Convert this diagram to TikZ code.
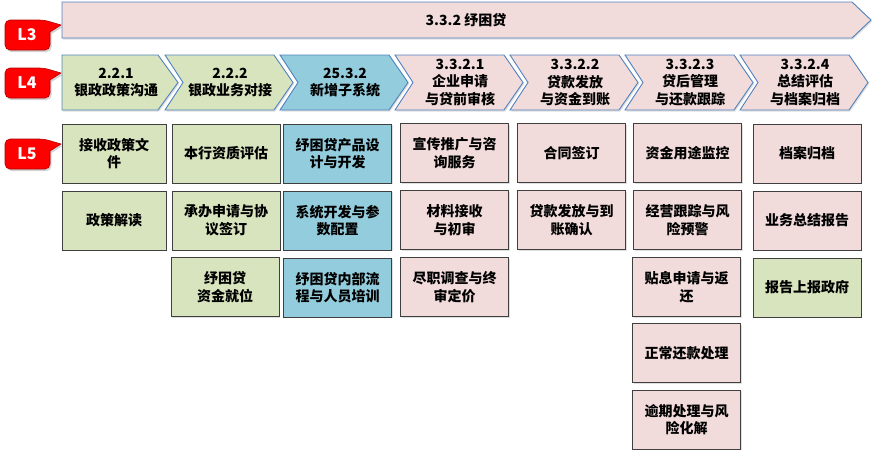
\documentclass[tikz,border=0pt]{standalone}
\usepackage{fontspec}
\setmainfont{Noto Sans CJK SC}
\usetikzlibrary{shadows}
\definecolor{oliveL}{HTML}{D7E4BD}
\definecolor{aquaL}{HTML}{93CDDD}
\definecolor{roseL}{HTML}{F2DCDB}
\definecolor{edgeB}{HTML}{4F81BD}
\definecolor{edgeD}{HTML}{3F3F3F}
\definecolor{tagR}{HTML}{FF0000}

\begin{document}
\begin{tikzpicture}[x=1pt,y=-1pt,
  chev/.style={draw=edgeB, line width=0.9pt, line join=miter,
    drop shadow={shadow xshift=1.2pt,shadow yshift=-1.5pt,opacity=0.25}},
  chevtext/.style={align=center, font=\fontsize{14}{17.5}\selectfont\bfseries},
  tag/.style={fill=tagR, draw=red!70!black, line width=0.6pt,
    drop shadow={shadow xshift=1.5pt,shadow yshift=-2pt,opacity=0.35}},
  tagtext/.style={text=white, font=\fontsize{16}{18}\selectfont\bfseries},
  l5box/.style={draw=edgeD, line width=0.9pt, minimum width=108pt, minimum height=59pt,
    align=center, inner sep=2pt, font=\fontsize{14}{17.5}\selectfont\bfseries,
    drop shadow={shadow xshift=1pt,shadow yshift=-1.2pt,opacity=0.25}}]

  \useasboundingbox (0,0) rectangle (877,450);

  % level tags
  \foreach \t/\lab in {20/L3, 68/L4, 139/L5}{
    \filldraw[tag, rounded corners=5pt] (5,{\t+15}) |- (44,\t) [sharp corners] -- (61,{\t+5})
      -- (50,{\t+12}) [rounded corners=5pt] |- (5,{\t+30}) -- cycle;
    \node[tagtext] (tag\lab) at (27,{\t+15}) {\lab};
  }

  % L3
  \filldraw[chev, fill=roseL] (62,2) -- (852,2) -- (871,20) -- (852,38) -- (62,38) -- cycle;
  \node[chevtext] (l3) at (466,20) {3.3.2 纾困贷};

  % L4
  \filldraw[chev, fill=oliveL] (62,55) -- (158,55) -- (178,82.5) -- (158,110) -- (62,110) -- cycle;
  \node[chevtext] (c1) at (116,82.5) {2.2.1\\银政政策沟通};
  \foreach \l/\c/\txt [count=\i from 2] in {
      165/oliveL/{2.2.2\\银政业务对接},
      280/aquaL/{25.3.2\\新增子系统},
      395/roseL/{3.3.2.1\\企业申请\\与贷前审核},
      510/roseL/{3.3.2.2\\贷款发放\\与资金到账},
      625/roseL/{3.3.2.3\\贷后管理\\与还款跟踪},
      740/roseL/{3.3.2.4\\总结评估\\与档案归档}}{
    \filldraw[chev, fill=\c] (\l,55) -- ({\l+109},55) -- ({\l+128},82.5) -- ({\l+109},110)
      -- (\l,110) -- ({\l+18},82.5) -- cycle;
    \node[chevtext] (c\i) at ({\l+65},82.5) {\txt};
  }

  % L5
  \node[l5box, fill=oliveL, minimum width=104pt] (b11) at (114,153.5) {接收政策文\\件};
  \node[l5box, fill=oliveL, minimum width=104pt] (b12) at (114,220.5) {政策解读};

  \node[l5box, fill=oliveL] (b21) at (226,153.5) {本行资质评估};
  \node[l5box, fill=oliveL] (b22) at (226,220.5) {承办申请与协\\议签订};
  \node[l5box, fill=oliveL] (b23) at (225,287) {纾困贷\\资金就位};

  \node[l5box, fill=aquaL] (b31) at (337.5,153.5) {纾困贷产品设\\计与开发};
  \node[l5box, fill=aquaL] (b32) at (337.5,220.5) {系统开发与参\\数配置};
  \node[l5box, fill=aquaL] (b33) at (337.5,287.5) {纾困贷内部流\\程与人员培训};

  \node[l5box, fill=roseL] (b41) at (454.5,153) {宣传推广与咨\\询服务};
  \node[l5box, fill=roseL] (b42) at (454.5,220) {材料接收\\与初审};
  \node[l5box, fill=roseL] (b43) at (454.5,287) {尽职调查与终\\审定价};

  \node[l5box, fill=roseL] (b51) at (571.5,153) {合同签订};
  \node[l5box, fill=roseL] (b52) at (571.5,220) {贷款发放与到\\账确认};

  \node[l5box, fill=roseL] (b61) at (687.5,153) {资金用途监控};
  \node[l5box, fill=roseL] (b62) at (687.5,220) {经营跟踪与风\\险预警};
  \node[l5box, fill=roseL] (b63) at (686.5,287) {贴息申请与返\\还};
  \node[l5box, fill=roseL] (b64) at (686.5,353) {正常还款处理};
  \node[l5box, fill=roseL] (b65) at (686.5,419.5) {逾期处理与风\\险化解};

  \node[l5box, fill=roseL] (b71) at (807,153.5) {档案归档};
  \node[l5box, fill=roseL] (b72) at (807,220.5) {业务总结报告};
  \node[l5box, fill=oliveL] (b73) at (807,287.5) {报告上报政府};
\end{tikzpicture}
\end{document}
